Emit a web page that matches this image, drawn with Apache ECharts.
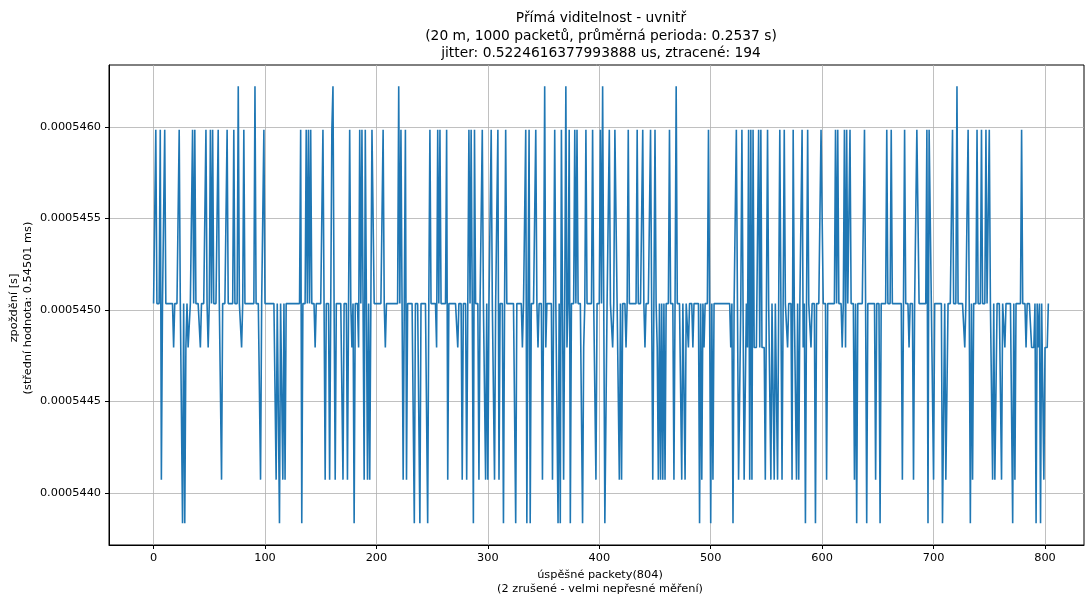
<!DOCTYPE html>
<html>
<head>
<meta charset="utf-8">
<script src="https://cdn.jsdelivr.net/npm/echarts@6/dist/echarts.min.js"></script>
<style>html,body{margin:0;padding:0;background:#fff}#c{width:1085px;height:597px}</style>
</head>
<body>
<div id="c"></div>
<script>
// ---- data ----
const packetCount = 804;                 // x = 0 .. 803
const levelBase = 0.000545035;           // most packets sit here
const levelU1 = 0.000545985;
const levelU2 = 0.000546222;
const levelD1 = 0.000544795;
const levelD4 = 0.000544073;
const levelD5 = 0.000543835;
const idxU2 = [76, 91, 161, 220, 351, 370, 403, 469, 721];
const idxU1 = [2, 6, 10, 23, 35, 37, 47, 51, 53, 58, 66, 72, 81, 99, 132, 137, 139, 141, 152, 160, 176, 185, 187, 190, 196, 197, 206, 222, 226, 248, 255, 257, 263, 283, 285, 288, 295, 303, 309, 316, 334, 337, 343, 360, 366, 373, 378, 380, 388, 394, 401, 409, 414, 415, 426, 434, 439, 446, 447, 450, 463, 498, 523, 528, 534, 536, 538, 543, 545, 551, 562, 566, 574, 582, 587, 599, 600, 612, 614, 620, 622, 625, 638, 658, 662, 674, 685, 686, 694, 696, 697, 717, 731, 739, 743, 747, 750, 779];
const idxD1 = [18, 29, 31, 32, 42, 49, 79, 145, 178, 184, 208, 254, 273, 331, 345, 352, 371, 386, 412, 424, 441, 452, 480, 484, 494, 518, 533, 539, 540, 541, 542, 544, 546, 547, 548, 569, 583, 590, 618, 621, 678, 728, 764, 783, 788, 789, 790, 794, 800, 801, 802];
const idxD4 = [7, 61, 96, 110, 116, 118, 154, 158, 163, 170, 174, 189, 192, 194, 224, 227, 264, 277, 281, 292, 298, 300, 306, 310, 349, 358, 368, 397, 418, 420, 448, 453, 455, 457, 459, 467, 474, 477, 492, 502, 525, 526, 530, 531, 535, 537, 549, 554, 557, 560, 564, 573, 577, 579, 604, 629, 648, 672, 682, 700, 711, 712, 735, 753, 755, 756, 761, 773, 799];
const idxD5 = [26, 28, 113, 133, 180, 234, 239, 246, 287, 314, 325, 335, 338, 363, 365, 374, 385, 405, 406, 490, 500, 520, 585, 594, 631, 640, 652, 695, 708, 709, 733, 771, 792, 796];
const xTicks = [0, 100, 200, 300, 400, 500, 600, 700, 800];
const yTicks = [0.000544, 0.0005445, 0.000545, 0.0005455, 0.000546];
const titleLines = ['Přímá viditelnost - uvnitř', '(20 m, 1000 packetů, průměrná perioda: 0.2537 s)', 'jitter: 0.5224616377993888 us, ztracené: 194'];
const xName = ['úspěšné packety(804)', '(2 zrušené - velmi nepřesné měření)'];
const yName = ['zpoždění [s]', '(střední hodnota: 0.54501 ms)'];

// ---- build series ----
const values = new Array(packetCount).fill(levelBase);
[[idxU2, levelU2], [idxU1, levelU1], [idxD1, levelD1], [idxD4, levelD4], [idxD5, levelD5]].forEach(([arr, v]) => arr.forEach(i => { values[i] = v; }));
const seriesData = values.map((v, i) => [i, v]);

const font = 'DejaVu Sans';
const nameFont = '11.3px "DejaVu Sans"';
const chart = echarts.init(document.getElementById('c'), null, {renderer: 'canvas'});
chart.setOption({
  animation: false,
  backgroundColor: '#fff',
  title: {
    text: titleLines.join('\n'),
    left: 596, top: 5, textAlign: 'center',
    textStyle: {fontFamily: font, fontSize: 13.8, fontWeight: 'normal', color: '#000', lineHeight: 17.5}
  },
  graphic: [
    {type: 'text', x: 600, y: 575, style: {text: xName[0], font: nameFont, fill: '#000', textAlign: 'center', textVerticalAlign: 'middle'}},
    {type: 'text', x: 600, y: 589, style: {text: xName[1], font: nameFont, fill: '#000', textAlign: 'center', textVerticalAlign: 'middle'}},
    {type: 'text', x: 14, y: 308, rotation: Math.PI / 2, style: {text: yName[0], font: nameFont, fill: '#000', textAlign: 'center', textVerticalAlign: 'middle'}},
    {type: 'text', x: 28, y: 308, rotation: Math.PI / 2, style: {text: yName[1], font: nameFont, fill: '#000', textAlign: 'center', textVerticalAlign: 'middle'}}
  ],
  grid: {left: 109, top: 65, width: 975, height: 480, show: true, borderColor: '#000', borderWidth: 1,
    backgroundColor: 'transparent', containLabel: false, outerBoundsMode: 'none'},
  xAxis: {
    type: 'value', min: -40, max: 835,
    axisLine: {show: true, onZero: false, lineStyle: {color: '#000', width: 1}},
    axisTick: {show: true, length: 4, customValues: xTicks, lineStyle: {color: '#000'}},
    axisLabel: {customValues: xTicks, fontFamily: font, fontSize: 11.3, color: '#000', margin: 8},
    splitLine: {show: true, lineStyle: {color: '#b0b0b0', width: 0.8}}
  },
  yAxis: {
    type: 'value', min: 0.0005437158, max: 0.0005463388,
    axisLine: {show: true, onZero: false, lineStyle: {color: '#000', width: 1}},
    axisTick: {show: true, length: 4, customValues: yTicks, lineStyle: {color: '#000'}},
    axisLabel: {customValues: yTicks, fontFamily: font, fontSize: 11.3, color: '#000', margin: 8,
      formatter: v => v.toFixed(7)},
    splitLine: {show: true, lineStyle: {color: '#b0b0b0', width: 0.8}}
  },
  series: [{
    type: 'line', data: seriesData, showSymbol: false, symbol: 'none',
    lineStyle: {color: '#1f77b4', width: 1.6}, itemStyle: {color: '#1f77b4'}
  }]
});
</script>
</body>
</html>
